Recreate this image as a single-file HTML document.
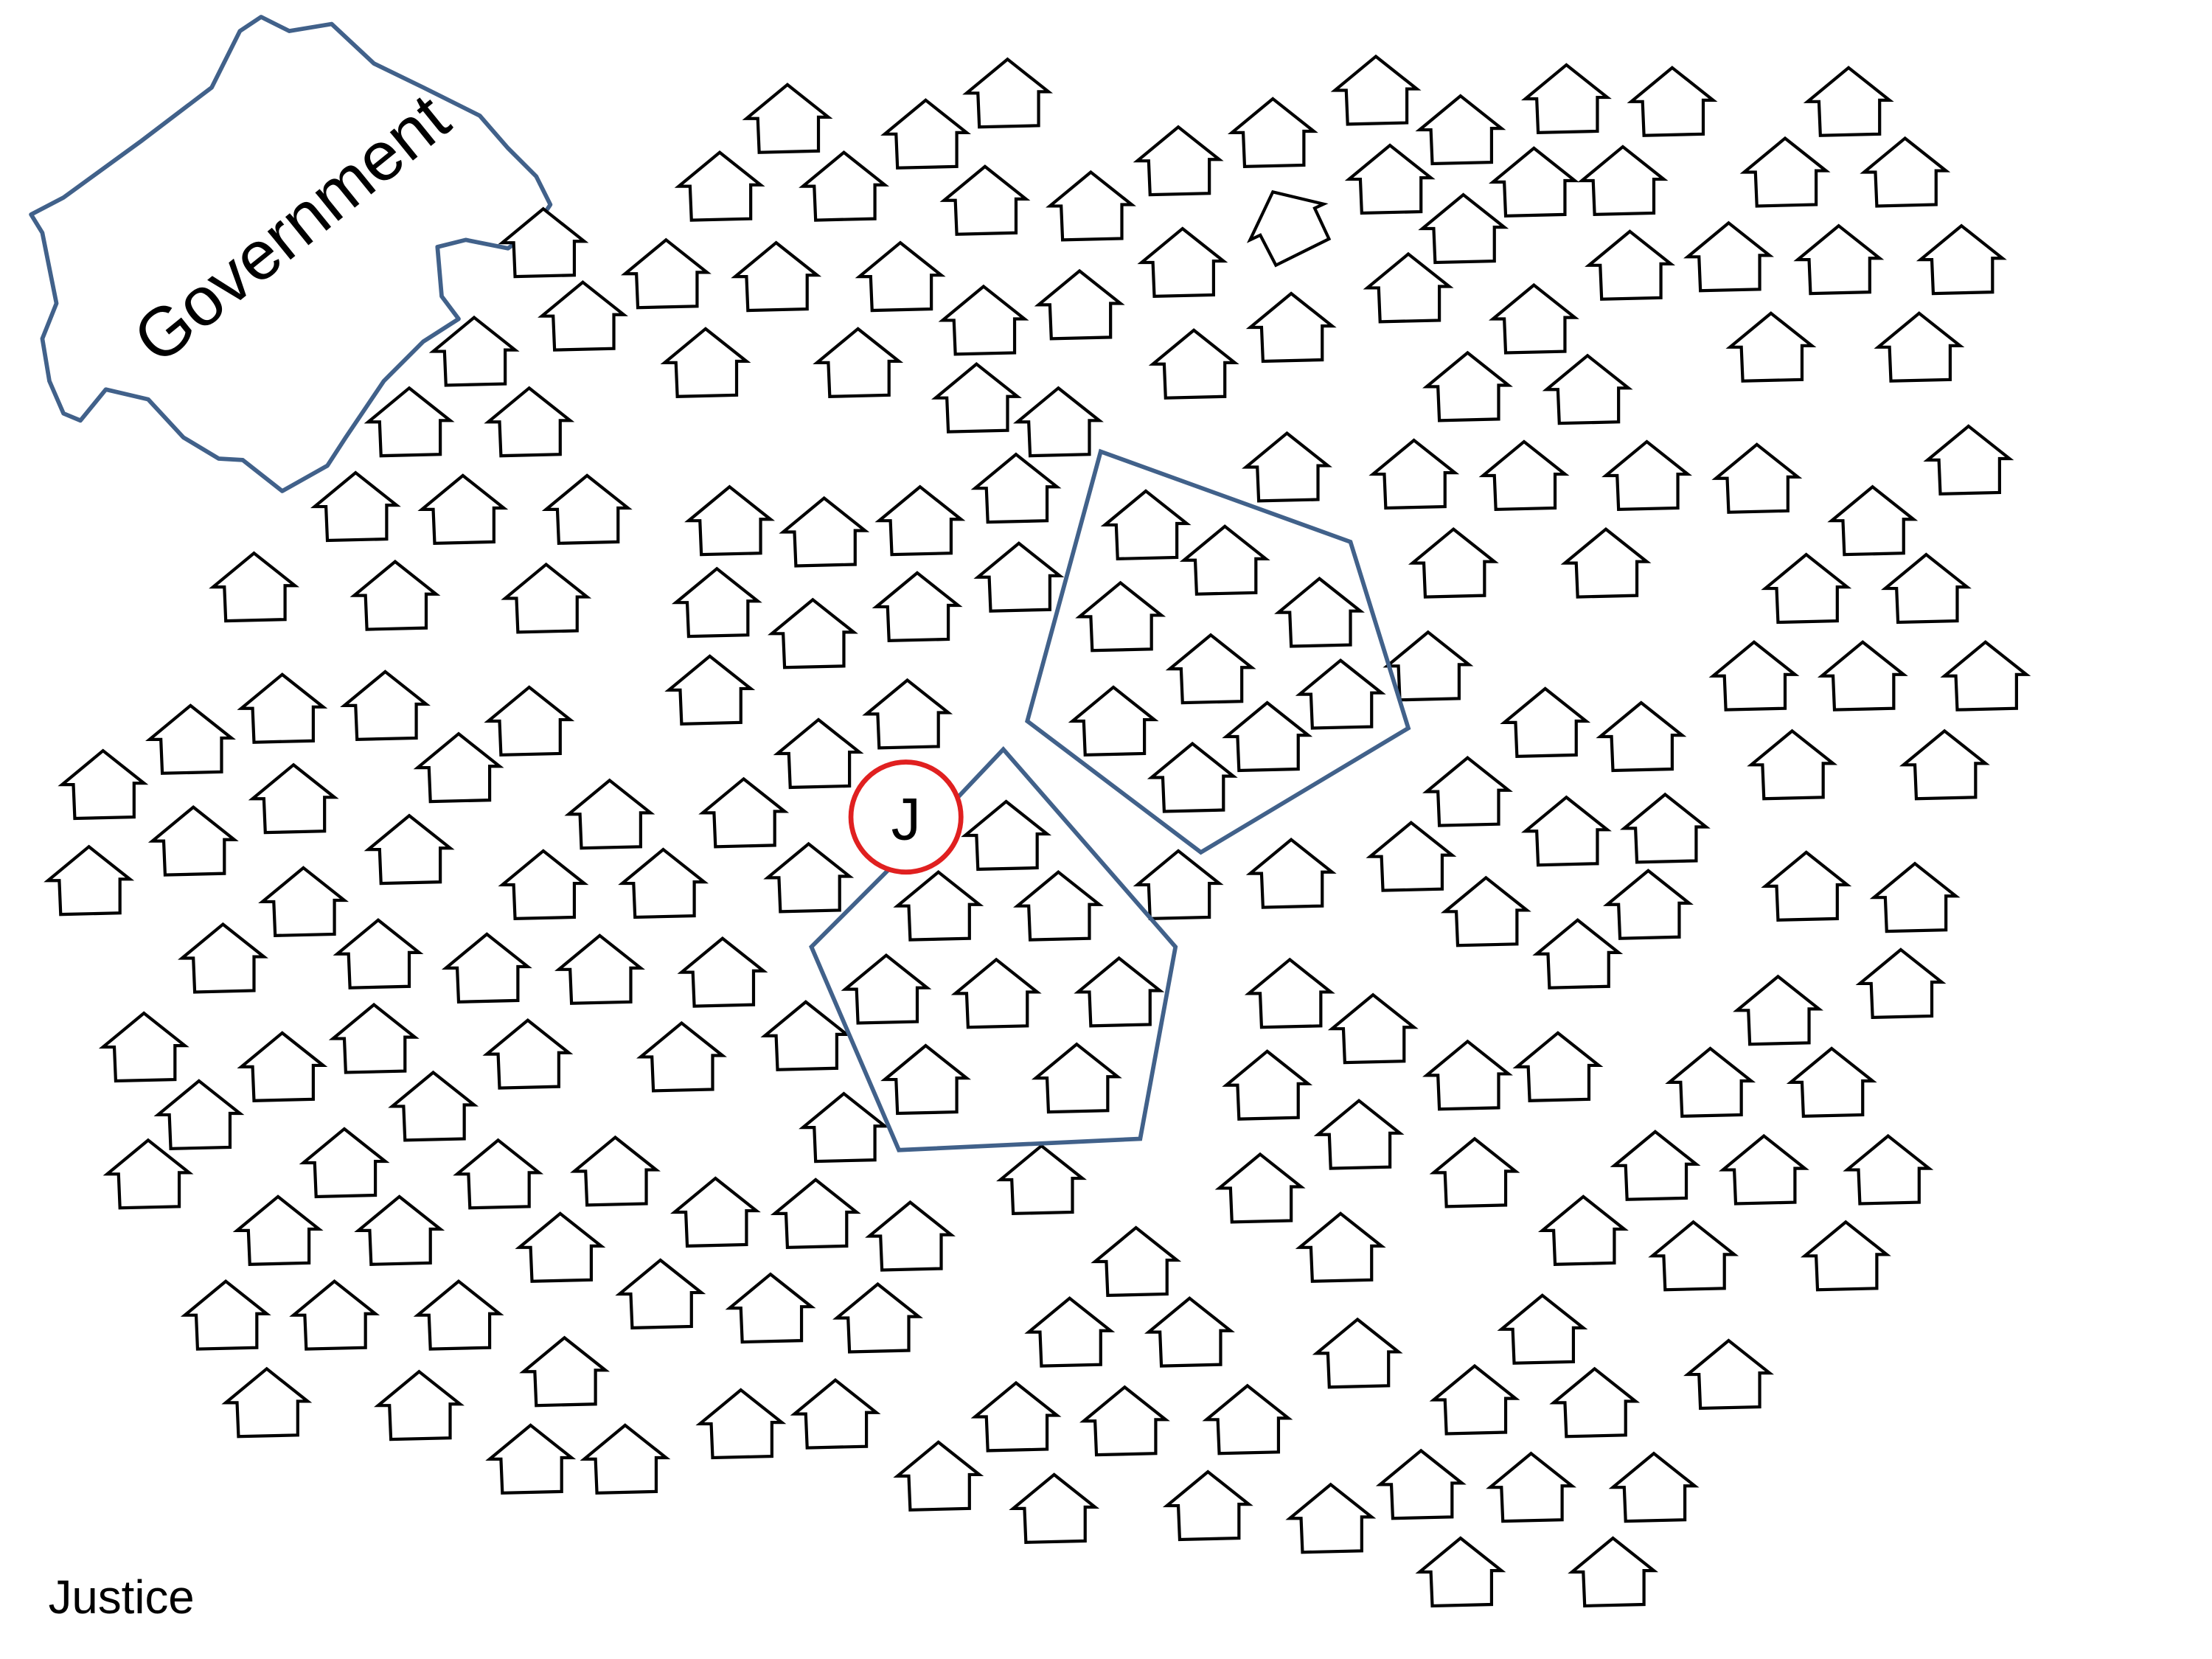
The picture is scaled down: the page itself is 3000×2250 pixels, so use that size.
<!DOCTYPE html>
<html><head><meta charset="utf-8"><style>html,body{margin:0;padding:0;background:#fff}svg{display:block}</style></head>
<body>
<svg width="3000" height="2250" viewBox="0 0 1555 1166.25" xmlns="http://www.w3.org/2000/svg">
<defs>
<path id="h" d="M0,0 L29,23 L22,23 L22,47 L-20,48 L-21,24 L-29,24 Z" fill="#fff" stroke="#000" stroke-width="2.2" stroke-linejoin="miter"/>
</defs>
<rect width="1555" height="1167" fill="#fff"/>
<g transform="scale(0.992)">
<path d="M22,152 L45,140 L100,100 L150,62 L170,22 L185,12 L205,22 L235,17 L265,45 L300,62 L340,82 L360,105 L380,125 L390,145 L378,163 L360,176 L330,170 L310,175 L313,210 L325,226 L300,242 L272,270 L245,310 L232,330 L200,348 L172,326 L155,325 L130,310 L105,283 L75,276 L57,298 L45,293 L35,270 L30,240 L40,215 L35,190 L30,165 Z" fill="none" stroke="#41618a" stroke-width="3" stroke-linejoin="round"/>
<text x="0" y="0" transform="translate(217,175) rotate(-39)" text-anchor="middle" font-family="Liberation Sans, sans-serif" font-size="49">Government</text>
<g>
<use href="#h" x="714" y="42"/><use href="#h" x="558" y="60"/><use href="#h" x="656" y="71"/><use href="#h" x="975" y="40"/><use href="#h" x="1035" y="68"/><use href="#h" x="1110" y="46"/><use href="#h" x="1185" y="48"/><use href="#h" x="1310" y="48"/>
<use href="#h" x="510" y="108"/><use href="#h" x="598" y="108"/><use href="#h" x="698" y="118"/><use href="#h" x="773" y="122"/><use href="#h" x="835" y="90"/><use href="#h" x="902" y="70"/><use href="#h" x="985" y="103"/><use href="#h" x="1087" y="105"/><use href="#h" x="1150" y="104"/><use href="#h" x="1265" y="98"/><use href="#h" x="1350" y="98"/>
<use href="#h" x="385" y="148"/><use href="#h" x="472" y="170"/><use href="#h" x="550" y="172"/><use href="#h" x="638" y="172"/><use href="#h" x="413" y="200"/><use href="#h" x="697" y="203"/><use href="#h" x="765" y="192"/><use href="#h" x="838" y="162"/><use href="#h" x="1037" y="138"/><use href="#h" x="1155" y="164"/><use href="#h" x="1225" y="158"/><use href="#h" x="1303" y="160"/><use href="#h" x="1390" y="160"/>
<use href="#h" transform="translate(902,136) rotate(-25)"/>
<use href="#h" x="336" y="225"/><use href="#h" x="500" y="233"/><use href="#h" x="608" y="233"/><use href="#h" x="692" y="258"/><use href="#h" x="750" y="275"/><use href="#h" x="846" y="234"/><use href="#h" x="915" y="208"/><use href="#h" x="998" y="180"/><use href="#h" x="1087" y="202"/><use href="#h" x="1255" y="222"/><use href="#h" x="1360" y="222"/>
<use href="#h" x="290" y="275"/><use href="#h" x="375" y="275"/><use href="#h" x="1040" y="250"/><use href="#h" x="1125" y="252"/>
<use href="#h" x="252" y="335"/><use href="#h" x="328" y="337"/><use href="#h" x="416" y="337"/><use href="#h" x="517" y="345"/><use href="#h" x="584" y="353"/><use href="#h" x="652" y="345"/><use href="#h" x="720" y="322"/><use href="#h" x="912" y="307"/><use href="#h" x="1002" y="312"/><use href="#h" x="1080" y="313"/><use href="#h" x="1167" y="313"/><use href="#h" x="1245" y="315"/><use href="#h" x="1327" y="345"/><use href="#h" x="1395" y="302"/>
<use href="#h" x="180" y="392"/><use href="#h" x="280" y="398"/><use href="#h" x="387" y="400"/><use href="#h" x="508" y="403"/><use href="#h" x="576" y="425"/><use href="#h" x="650" y="406"/><use href="#h" x="722" y="385"/><use href="#h" x="1030" y="375"/><use href="#h" x="1138" y="375"/><use href="#h" x="1280" y="393"/><use href="#h" x="1365" y="393"/>
<use href="#h" x="1012" y="448"/><use href="#h" x="1243" y="455"/><use href="#h" x="1320" y="455"/><use href="#h" x="1407" y="455"/>
<use href="#h" x="503" y="465"/><use href="#h" x="643" y="482"/><use href="#h" x="580" y="510"/>
<use href="#h" x="135" y="500"/><use href="#h" x="200" y="478"/><use href="#h" x="273" y="476"/><use href="#h" x="375" y="487"/><use href="#h" x="325" y="520"/><use href="#h" x="208" y="542"/><use href="#h" x="73" y="532"/><use href="#h" x="1095" y="488"/><use href="#h" x="1163" y="498"/><use href="#h" x="1040" y="537"/><use href="#h" x="1270" y="518"/><use href="#h" x="1378" y="518"/>
<use href="#h" x="63" y="600"/><use href="#h" x="137" y="572"/><use href="#h" x="290" y="578"/><use href="#h" x="432" y="553"/><use href="#h" x="527" y="552"/><use href="#h" x="573" y="598"/><use href="#h" x="215" y="615"/><use href="#h" x="385" y="603"/><use href="#h" x="470" y="602"/><use href="#h" x="1000" y="583"/><use href="#h" x="1110" y="565"/><use href="#h" x="1180" y="563"/><use href="#h" x="1053" y="622"/><use href="#h" x="1168" y="617"/><use href="#h" x="1280" y="604"/><use href="#h" x="1357" y="612"/>
<use href="#h" x="835" y="603"/><use href="#h" x="915" y="595"/>
<use href="#h" x="158" y="655"/><use href="#h" x="268" y="652"/><use href="#h" x="345" y="662"/><use href="#h" x="425" y="663"/><use href="#h" x="512" y="665"/><use href="#h" x="914" y="680"/><use href="#h" x="973" y="705"/><use href="#h" x="1118" y="652"/><use href="#h" x="1260" y="692"/><use href="#h" x="1347" y="673"/>
<use href="#h" x="102" y="718"/><use href="#h" x="200" y="732"/><use href="#h" x="265" y="712"/><use href="#h" x="374" y="723"/><use href="#h" x="483" y="725"/><use href="#h" x="571" y="710"/><use href="#h" x="141" y="766"/><use href="#h" x="307" y="760"/><use href="#h" x="898" y="745"/><use href="#h" x="1040" y="738"/><use href="#h" x="1104" y="732"/><use href="#h" x="1212" y="743"/><use href="#h" x="1298" y="743"/>
<use href="#h" x="105" y="808"/><use href="#h" x="244" y="800"/><use href="#h" x="353" y="808"/><use href="#h" x="436" y="806"/><use href="#h" x="598" y="775"/><use href="#h" x="507" y="835"/><use href="#h" x="578" y="836"/><use href="#h" x="645" y="852"/><use href="#h" x="738" y="812"/><use href="#h" x="963" y="780"/><use href="#h" x="1045" y="807"/><use href="#h" x="1173" y="802"/><use href="#h" x="1250" y="805"/><use href="#h" x="1338" y="805"/><use href="#h" x="893" y="818"/>
<use href="#h" x="197" y="848"/><use href="#h" x="283" y="848"/><use href="#h" x="397" y="860"/><use href="#h" x="468" y="893"/><use href="#h" x="546" y="903"/><use href="#h" x="622" y="910"/><use href="#h" x="805" y="870"/><use href="#h" x="950" y="860"/><use href="#h" x="1122" y="848"/><use href="#h" x="1200" y="866"/><use href="#h" x="1308" y="866"/>
<use href="#h" x="160" y="908"/><use href="#h" x="237" y="908"/><use href="#h" x="325" y="908"/><use href="#h" x="400" y="948"/><use href="#h" x="758" y="920"/><use href="#h" x="843" y="920"/><use href="#h" x="962" y="935"/><use href="#h" x="1093" y="918"/><use href="#h" x="1225" y="950"/>
<use href="#h" x="189" y="970"/><use href="#h" x="297" y="972"/><use href="#h" x="376" y="1010"/><use href="#h" x="443" y="1010"/><use href="#h" x="525" y="985"/><use href="#h" x="592" y="978"/><use href="#h" x="720" y="980"/><use href="#h" x="797" y="983"/><use href="#h" x="884" y="982"/><use href="#h" x="665" y="1022"/><use href="#h" x="747" y="1045"/><use href="#h" x="856" y="1043"/><use href="#h" x="943" y="1052"/><use href="#h" x="1045" y="968"/><use href="#h" x="1130" y="970"/><use href="#h" x="1007" y="1028"/><use href="#h" x="1085" y="1030"/><use href="#h" x="1172" y="1030"/><use href="#h" x="1035" y="1090"/><use href="#h" x="1143" y="1090"/>
<use href="#h" x="812" y="348"/><use href="#h" x="868" y="373"/><use href="#h" x="794" y="413"/><use href="#h" x="935" y="410"/><use href="#h" x="858" y="450"/><use href="#h" x="950" y="468"/><use href="#h" x="789" y="487"/><use href="#h" x="898" y="498"/><use href="#h" x="845" y="527"/>
<use href="#h" x="713" y="568"/><use href="#h" x="665" y="618"/><use href="#h" x="750" y="618"/><use href="#h" x="628" y="677"/><use href="#h" x="706" y="680"/><use href="#h" x="793" y="679"/><use href="#h" x="656" y="741"/><use href="#h" x="763" y="740"/>
</g>
<polygon points="780,320 957,384 998,516 851,604 728,511" fill="none" stroke="#41618a" stroke-width="3"/>
<polygon points="711,531 833,671 808,807 637,815 575,671 640,606" fill="none" stroke="#41618a" stroke-width="3"/>
<circle cx="642" cy="579" r="39" fill="#fff" stroke="#e02020" stroke-width="3.5"/>
<text x="642" y="595" text-anchor="middle" font-family="Liberation Sans, sans-serif" font-size="42">J</text>
</g>
<text x="34" y="1134" font-family="Liberation Sans, sans-serif" font-size="33">Justice</text>
</svg>
</body></html>
